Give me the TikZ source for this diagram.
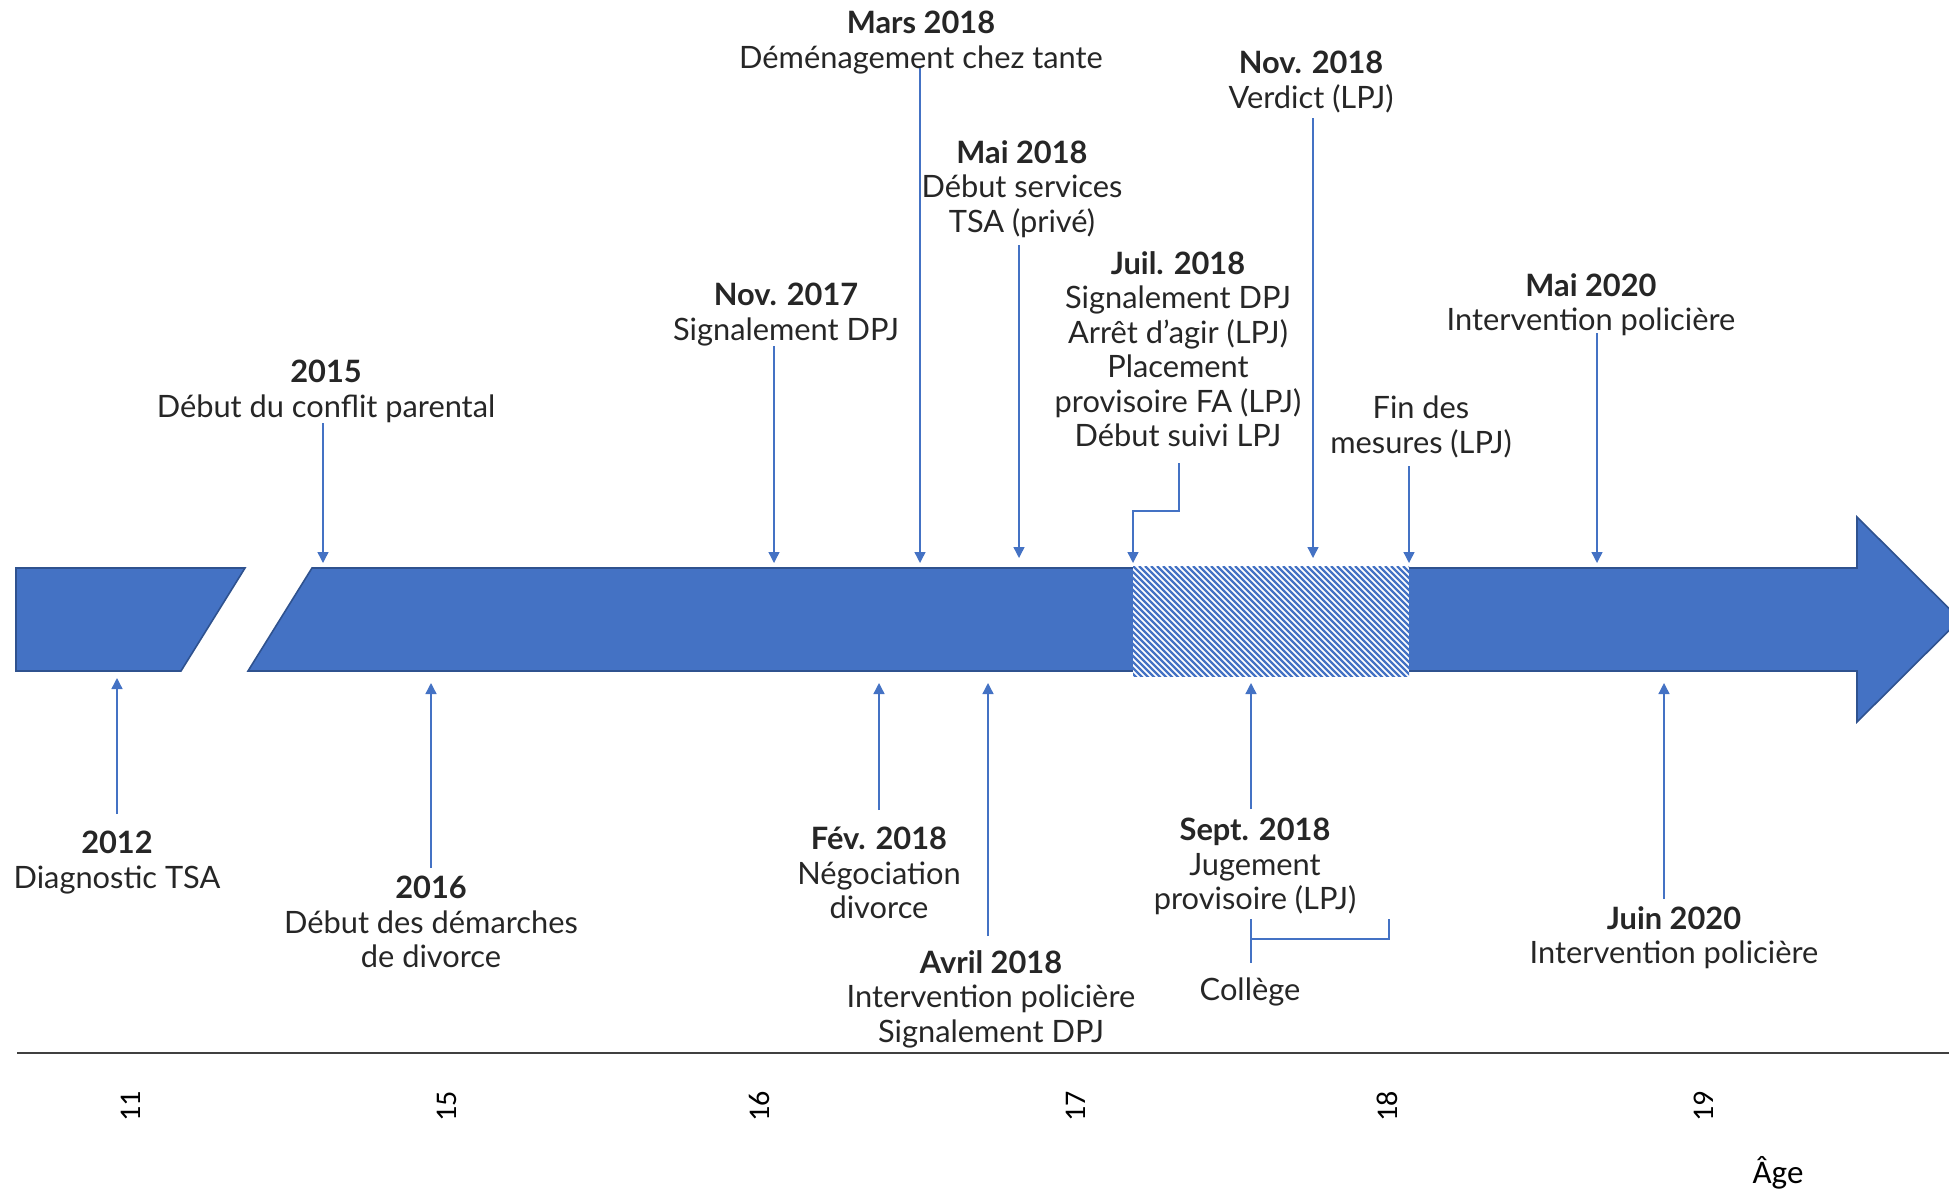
\documentclass[tikz,border=0pt]{standalone}
\usepackage{fontspec}
\setmainfont{Lato}
\newfontfamily\axisfont{Carlito}
\usetikzlibrary{arrows.meta}
\definecolor{barblue}{HTML}{4472C4}
\definecolor{bardark}{HTML}{2F528F}
\definecolor{txt}{HTML}{262626}
\tikzset{
  lbl/.style={anchor=north, inner sep=0pt, align=center, text=txt, font=\fontsize{30.8}{34.5}\selectfont},
  conn/.style={draw=barblue, line width=1.4pt, -{Triangle[width=11pt,length=11pt]}},
  plain/.style={draw=barblue, line width=1.4pt},
  agelbl/.style={rotate=90, inner sep=0pt, text=black, font=\axisfont\fontsize{30}{33}\selectfont}
}
\begin{document}
\begin{tikzpicture}[x=1pt,y=-1pt]
\useasboundingbox (0,0) rectangle (1949,1192);
\begin{scope}
\clip (0,0) rectangle (1949,1192);
% bar
\fill[barblue, draw=bardark, line width=1.6pt] (16,568) -- (245,568) -- (181,671) -- (16,671) -- cycle;
\fill[barblue, draw=bardark, line width=1.6pt] (312,568) -- (1857,568) -- (1857,517) -- (1960,619.5) -- (1857,722) -- (1857,671) -- (248,671) -- cycle;
% hatched part
\begin{scope}
\clip (1133,566) rectangle (1409,676);
\fill[white] (1133,566) rectangle (1409,676);
\foreach \i in {-114,-108,...,282} \draw[barblue, line width=2.2pt] (1133+\i,566) -- ++(112,112);
\end{scope}
\end{scope}

% top labels
\node[lbl] (l2015) at (326,360) {\textbf{2015}\\Début du conflit parental};
\node[lbl] (lnov17) at (786,283) {\textbf{Nov. 2017}\\Signalement DPJ};
\node[lbl] (lmars) at (921,11) {\textbf{Mars 2018}\\Déménagement chez tante};
\node[lbl] (lmai18) at (1022,140) {\textbf{Mai 2018}\\Début services\\TSA (privé)};
\node[lbl] (ljuil) at (1178,251) {\textbf{Juil. 2018}\\Signalement DPJ\\Arrêt d’agir (LPJ)\\Placement\\provisoire FA (LPJ)\\Début suivi LPJ};
\node[lbl] (lnov18) at (1311,51) {\textbf{Nov. 2018}\\Verdict (LPJ)};
\node[lbl] (lfin) at (1421,396) {Fin des\\mesures (LPJ)};
\node[lbl] (lmai20) at (1591,273) {\textbf{Mai 2020}\\Intervention policière};

% bottom labels
\node[lbl] (l2012) at (117,831) {\textbf{2012}\\Diagnostic TSA};
\node[lbl] (l2016) at (431,876) {\textbf{2016}\\Début des démarches\\de divorce};
\node[lbl] (lfev) at (879,827) {\textbf{Fév. 2018}\\Négociation\\divorce};
\node[lbl] (lavril) at (991,950) {\textbf{Avril 2018}\\Intervention policière\\Signalement DPJ};
\node[lbl] (lsept) at (1255,818) {\textbf{Sept. 2018}\\Jugement\\provisoire (LPJ)};
\node[lbl] (ljuin) at (1674,906) {\textbf{Juin 2020}\\Intervention policière};
\node[lbl] (lcol) at (1250,978) {Collège};

% connector coordinates
\coordinate (s2015) at (323,423);   \coordinate (e2015) at (323,563);
\coordinate (snov17) at (774,346);  \coordinate (enov17) at (774,563);
\coordinate (smars) at (920,68);    \coordinate (emars) at (920,563);
\coordinate (smai18) at (1019,245); \coordinate (emai18) at (1019,558);
\coordinate (sjuil) at (1179,463);  \coordinate (bjuil) at (1179,511);
\coordinate (cjuil) at (1133,511);  \coordinate (ejuil) at (1133,563);
\coordinate (snov18) at (1313,118); \coordinate (enov18) at (1313,558);
\coordinate (sfin) at (1409,466);   \coordinate (efin) at (1409,563);
\coordinate (smai20) at (1597,333); \coordinate (emai20) at (1597,563);

\coordinate (s2012) at (117,814);   \coordinate (e2012) at (117,678);
\coordinate (s2016) at (431,868);   \coordinate (e2016) at (431,683);
\coordinate (sfev) at (879,810);    \coordinate (efev) at (879,683);
\coordinate (savril) at (988,936);  \coordinate (eavril) at (988,683);
\coordinate (ssept) at (1251,809);  \coordinate (esept) at (1251,683);
\coordinate (sjuin) at (1664,899);  \coordinate (ejuin) at (1664,683);

\draw[conn] (s2015) -- (e2015);
\draw[conn] (snov17) -- (enov17);
\draw[conn] (smars) -- (emars);
\draw[conn] (smai18) -- (emai18);
\draw[conn] (sjuil) -- (bjuil) -- (cjuil) -- (ejuil);
\draw[conn] (snov18) -- (enov18);
\draw[conn] (sfin) -- (efin);
\draw[conn] (smai20) -- (emai20);
\draw[conn] (s2012) -- (e2012);
\draw[conn] (s2016) -- (e2016);
\draw[conn] (sfev) -- (efev);
\draw[conn] (savril) -- (eavril);
\draw[conn] (ssept) -- (esept);
\draw[conn] (sjuin) -- (ejuin);

% college bracket
\coordinate (ca) at (1251,919); \coordinate (cb) at (1251,963);
\coordinate (cc) at (1251,939); \coordinate (cd) at (1389,939); \coordinate (ce) at (1389,919);
\draw[plain] (ca) -- (cb);
\draw[plain] (cc) -- (cd) -- (ce);

% axis
\coordinate (ax0) at (17,1053); \coordinate (ax1) at (1949,1053);
\draw[black!75, line width=2pt] (ax0) -- (ax1);
\node[agelbl] (a11) at (131,1106) {11};
\node[agelbl] (a15) at (447,1106) {15};
\node[agelbl] (a16) at (759,1106) {16};
\node[agelbl] (a17) at (1076,1106) {17};
\node[agelbl] (a18) at (1387,1106) {18};
\node[agelbl] (a19) at (1704,1106) {19};
\node[inner sep=0pt, text=black, font=\axisfont\fontsize{33}{36}\selectfont] (age) at (1778,1173) {Âge};
\end{tikzpicture}
\end{document}
